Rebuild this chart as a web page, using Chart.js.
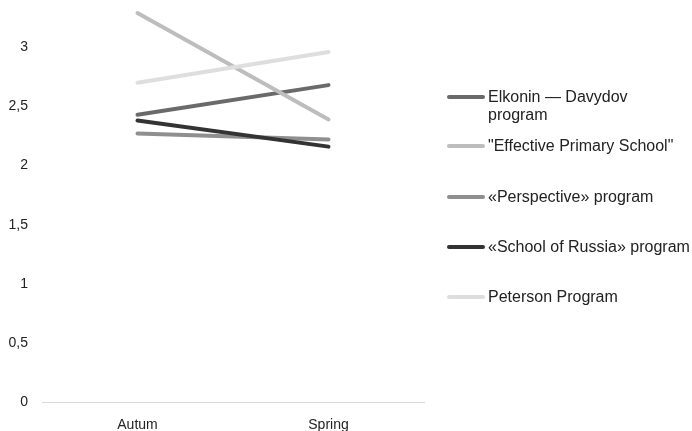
<!DOCTYPE html>
<html>
<head>
<meta charset="utf-8">
<script src="https://cdn.jsdelivr.net/npm/chart.js@4"></script>
<style>
  body { margin: 0; background: #fff; font-family: "Liberation Sans", Arial, sans-serif; }
  #wrap { position: relative; width: 692px; height: 431px; }
  #legend { position: absolute; left: 447px; top: 0; font-size: 16px; color: #222; }
  .item { position: absolute; left: 0; display: flex; align-items: flex-start; white-space: nowrap; line-height: 18px; }
  .swatch { width: 38px; height: 4px; border-radius: 2px; margin-top: 7px; margin-right: 3px; }
</style>
</head>
<body>
<div id="wrap">
  <canvas id="myChart" width="692" height="431"></canvas>
  <div id="legend"></div>
</div>
<script>
const categories = ['Autum', 'Spring'];
const seriesNames = ['Elkonin — Davydov\nprogram', '"Effective Primary School"', '«Perspective» program', '«School of Russia» program', 'Peterson Program'];
const elkonin = [2.43, 2.68];
const effective = [3.29, 2.39];
const perspective = [2.27, 2.22];
const schoolOfRussia = [2.38, 2.16];
const peterson = [2.70, 2.96];
const yTicks = [0, 0.5, 1, 1.5, 2, 2.5, 3];

const colors = ['#6a6a6a', '#bdbdbd', '#8f8f8f', '#333333', '#dedede'];
const values = [elkonin, effective, perspective, schoolOfRussia, peterson];
const legendTops = [88, 137, 188, 238, 288];

const ctx = document.getElementById('myChart').getContext('2d');
const myChart = new Chart(ctx, {
    type: 'line',
    data: {
        labels: categories,
        datasets: values.map((v, i) => ({
            label: seriesNames[i],
            data: v,
            order: values.length - i,
            borderColor: colors[i],
            backgroundColor: colors[i],
            borderWidth: 4,
            borderCapStyle: 'round',
            pointRadius: 0,
            fill: false,
            clip: false
        }))
    },
    options: {
        responsive: false,
        animation: false,
        layout: { padding: { top: 0, right: 268, left: 0, bottom: 0 } },
        plugins: { legend: { display: false }, tooltip: { enabled: false } },
        scales: {
            x: {
                offset: true,
                grid: { display: false, drawTicks: false },
                border: { display: true, color: '#d9d9d9', width: 1 },
                ticks: { color: '#222', padding: 15, font: { family: '"Liberation Sans", Arial', size: 14 } },
                afterFit: s => { s.height = 29; s.paddingLeft = 0; s.paddingRight = 0; }
            },
            y: {
                min: 0,
                max: 3.4,
                grid: { display: false, drawTicks: false },
                border: { display: false },
                afterBuildTicks: s => { s.ticks = yTicks.map(v => ({ value: v })); },
                ticks: {
                    color: '#222',
                    padding: 14,
                    font: { family: '"Liberation Sans", Arial', size: 14 },
                    callback: v => String(v).replace('.', ',')
                },
                afterFit: s => { s.width = 42; s.paddingTop = 0; s.paddingBottom = 0; }
            }
        }
    }
});

const legend = document.getElementById('legend');
seriesNames.forEach((name, i) => {
    const item = document.createElement('div');
    item.className = 'item';
    item.style.top = legendTops[i] + 'px';
    const sw = document.createElement('span');
    sw.className = 'swatch';
    sw.style.background = colors[i];
    const txt = document.createElement('span');
    txt.innerHTML = name.replace('\n', '<br>');
    item.appendChild(sw);
    item.appendChild(txt);
    legend.appendChild(item);
});
</script>
</body>
</html>
